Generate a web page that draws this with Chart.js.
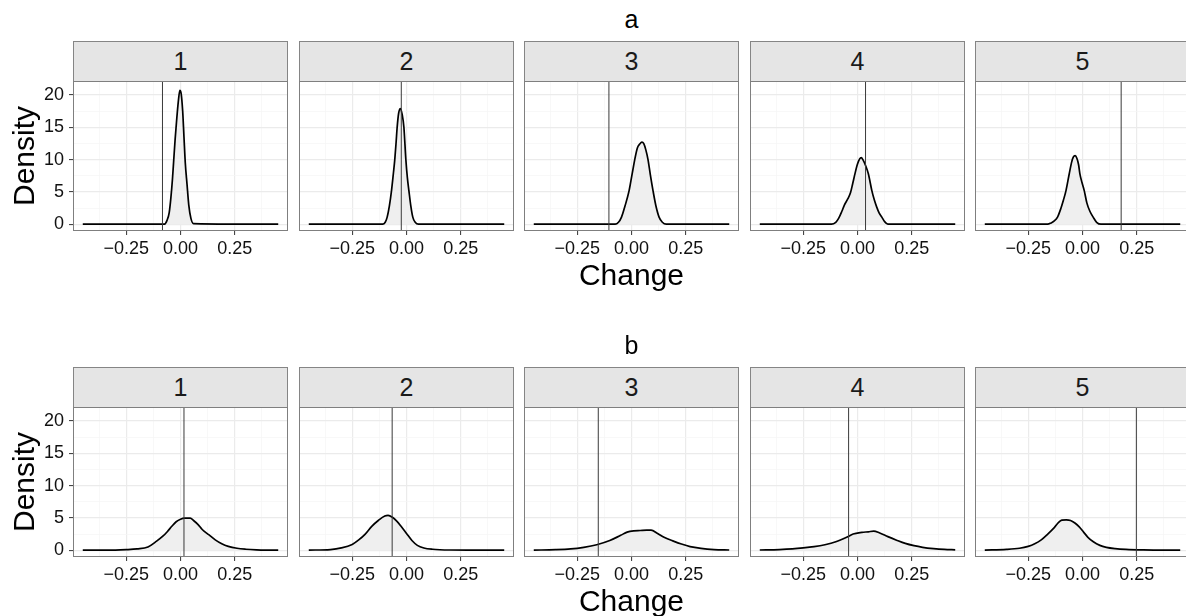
<!DOCTYPE html>
<html>
<head>
<meta charset="utf-8">
<script src="https://cdn.jsdelivr.net/npm/chart.js@4"></script>
<style>
  html { overflow: hidden; }
  body { margin: 0; background: #fff; width: 1186px; height: 616px; overflow: hidden; position: relative;
         font-family: "Liberation Sans", Arial, sans-serif; }
  #wrap { position: absolute; left: 0; top: 0; width: 1186px; height: 616px; overflow: hidden; }
  .strip { position: absolute; box-sizing: border-box; background: #e5e5e5; border: 1px solid #858585;
           display: flex; align-items: center; justify-content: center; font-size: 25px; color: #1a1a1a; line-height: 1; }
  .lbl { position: absolute; line-height: 1; color: #000; white-space: nowrap; }
  canvas { position: absolute; }
</style>
</head>
<body>
<div id="wrap"></div>
<script>
// facet names and row titles
var panelNames = ['1', '2', '3', '4', '5'];
var rowTitles = ['a', 'b'];

// axis ticks
var xMajor = [-0.25, 0, 0.25];
var xTickLabels = ['\u22120.25', '0.00', '0.25'];
var xMinor = [-0.375, -0.125, 0.125, 0.375];
var yMajor = [0, 5, 10, 15, 20];
var yMinor = [2.5, 7.5, 12.5, 17.5];

// vertical reference lines per panel
var vlineA = [-0.083, -0.024, -0.104, 0.037, 0.178];
var vlineB = [0.016, -0.066, -0.153, -0.041, 0.248];

// densities, row a
var densA1x = [-0.45, -0.075, -0.062, -0.052, -0.044, -0.037, -0.031, -0.025, -0.018, -0.01, -0.003, 0.003, 0.01, 0.016, 0.022, 0.03, 0.038, 0.048, 0.06, 0.45];
var densA1y = [0, 0, 0.6, 1.8, 4.2, 7.0, 10.0, 13.0, 16.0, 19.0, 20.7, 20.2, 17.5, 13.5, 9.5, 6.2, 3.0, 0.9, 0.1, 0];
var densA2x = [-0.45, -0.11, -0.098, -0.089, -0.079, -0.069, -0.06, -0.054, -0.048, -0.043, -0.036, -0.028, -0.02, -0.012, -0.003, 0.004, 0.011, 0.02, 0.029, 0.04, 0.055, 0.45];
var densA2y = [0, 0, 0.3, 1.1, 2.8, 5.2, 8.0, 10.0, 12.6, 15.0, 17.2, 17.9, 17.0, 15.0, 10.0, 7.2, 5.2, 2.8, 1.1, 0.3, 0, 0];
var densA3x = [-0.45, -0.075, -0.06, -0.046, -0.03, -0.011, 0.002, 0.015, 0.027, 0.038, 0.048, 0.056, 0.066, 0.076, 0.087, 0.099, 0.112, 0.127, 0.142, 0.16, 0.45];
var densA3y = [0, 0, 0.3, 1.1, 2.8, 5.2, 7.6, 10.0, 11.8, 12.4, 12.7, 12.5, 11.5, 10.0, 7.6, 5.2, 2.9, 1.1, 0.3, 0, 0];
var densA4x = [-0.45, -0.12, -0.1, -0.087, -0.072, -0.06, -0.045, -0.032, -0.022, -0.011, 0.0, 0.01, 0.017, 0.026, 0.038, 0.05, 0.066, 0.078, 0.089, 0.1, 0.112, 0.125, 0.14, 0.45];
var densA4y = [0, 0, 0.3, 0.9, 2.0, 3.0, 3.9, 4.9, 6.3, 7.9, 9.3, 10.1, 10.3, 9.9, 9.0, 7.8, 5.2, 3.7, 2.6, 1.7, 1.1, 0.4, 0, 0];
var densA5x = [-0.45, -0.16, -0.145, -0.13, -0.115, -0.1, -0.088, -0.076, -0.061, -0.05, -0.042, -0.034, -0.026, -0.018, -0.012, -0.002, 0.008, 0.02, 0.034, 0.049, 0.065, 0.085, 0.45];
var densA5y = [0, 0, 0.2, 0.5, 1.1, 2.4, 3.7, 5.2, 7.8, 9.6, 10.4, 10.6, 10.2, 9.2, 7.8, 6.4, 5.2, 3.3, 2.0, 1.1, 0.3, 0, 0];

// densities, row b
var densB1x = [-0.45, -0.3, -0.25, -0.2, -0.15, -0.11, -0.08, -0.06, -0.04, -0.02, 0.0, 0.02, 0.045, 0.06, 0.08, 0.1, 0.13, 0.16, 0.19, 0.22, 0.26, 0.3, 0.35, 0.4, 0.45];
var densB1y = [0, 0.02, 0.08, 0.2, 0.5, 1.4, 2.2, 2.9, 3.7, 4.4, 4.8, 4.95, 4.95, 4.6, 4.0, 3.2, 2.4, 1.6, 1.0, 0.6, 0.3, 0.15, 0.05, 0.01, 0];
var densB2x = [-0.45, -0.35, -0.3, -0.25, -0.22, -0.19, -0.16, -0.13, -0.1, -0.085, -0.065, -0.045, -0.025, 0.0, 0.025, 0.05, 0.08, 0.12, 0.2, 0.3, 0.45];
var densB2y = [0.02, 0.1, 0.35, 0.9, 1.6, 2.5, 3.7, 4.6, 5.3, 5.4, 5.1, 4.5, 3.7, 2.6, 1.5, 0.75, 0.35, 0.15, 0.03, 0.01, 0];
var densB3x = [-0.45, -0.35, -0.28, -0.22, -0.16, -0.1, -0.05, -0.02, 0.01, 0.04, 0.07, 0.09, 0.12, 0.15, 0.19, 0.23, 0.27, 0.32, 0.38, 0.45];
var densB3y = [0.02, 0.08, 0.2, 0.45, 0.85, 1.5, 2.3, 2.8, 3.0, 3.05, 3.1, 3.1, 2.6, 2.0, 1.45, 0.95, 0.55, 0.28, 0.1, 0.03];
var densB4x = [-0.45, -0.36, -0.3, -0.25, -0.2, -0.15, -0.1, -0.05, -0.02, 0.02, 0.05, 0.075, 0.1, 0.14, 0.18, 0.22, 0.26, 0.3, 0.35, 0.4, 0.45];
var densB4y = [0.03, 0.1, 0.2, 0.35, 0.55, 0.85, 1.3, 2.0, 2.5, 2.75, 2.85, 2.95, 2.7, 2.1, 1.55, 1.05, 0.7, 0.45, 0.25, 0.12, 0.06];
var densB5x = [-0.45, -0.35, -0.29, -0.25, -0.22, -0.19, -0.16, -0.13, -0.11, -0.095, -0.075, -0.055, -0.035, -0.015, 0.005, 0.025, 0.05, 0.08, 0.11, 0.15, 0.2, 0.28, 0.45];
var densB5y = [0.02, 0.12, 0.3, 0.6, 1.0, 1.6, 2.5, 3.5, 4.3, 4.65, 4.7, 4.6, 4.2, 3.6, 2.8, 2.0, 1.3, 0.75, 0.45, 0.25, 0.12, 0.04, 0];

var rowsX = [[densA1x, densA2x, densA3x, densA4x, densA5x], [densB1x, densB2x, densB3x, densB4x, densB5x]];
var rowsY = [[densA1y, densA2y, densA3y, densA4y, densA5y], [densB1y, densB2y, densB3y, densB4y, densB5y]];
var rowsV = [vlineA, vlineB];

// layout
var colLeft = [73, 299, 524, 750, 975];
var rowTop = [81, 407];
var panelW = 215, panelH = 150, stripH = 40, xAxisH = 30;
var xMin = -0.495, xMax = 0.495, yMin = -1.05, yMax = 22.15;

var wrap = document.getElementById('wrap');

Chart.defaults.font.family = '"Liberation Sans", Arial, sans-serif';
Chart.defaults.font.size = 18;
Chart.defaults.color = '#111';

var panelBorder = {
  id: 'panelBorder',
  afterDraw: function(chart) {
    var a = chart.chartArea, ctx = chart.ctx;
    ctx.save();
    ctx.strokeStyle = '#7f7f7f';
    ctx.lineWidth = 1;
    ctx.strokeRect(a.left + 0.5, a.top + 0.5, a.right - a.left - 1, a.bottom - a.top - 1);
    ctx.restore();
  }
};

function isMajor(list, v) {
  return list.some(function(m) { return Math.abs(m - v) < 1e-9; });
}

function addLabel(text, size, left, top, extra) {
  var d = document.createElement('div');
  d.className = 'lbl';
  d.textContent = text;
  d.style.fontSize = size + 'px';
  d.style.left = left + 'px';
  d.style.top = top + 'px';
  d.style.transform = extra;
  wrap.appendChild(d);
}

function makePanel(r, c) {
  var xs = rowsX[r][c], ys = rowsY[r][c], vx = rowsV[r][c];
  var axisW = c === 0 ? colLeft[0] : 0;

  var strip = document.createElement('div');
  strip.className = 'strip';
  strip.textContent = panelNames[c];
  strip.style.left = colLeft[c] + 'px';
  strip.style.top = (rowTop[r] - stripH) + 'px';
  strip.style.width = panelW + 'px';
  strip.style.height = (stripH + 1) + 'px';
  wrap.appendChild(strip);

  var canvas = document.createElement('canvas');
  canvas.width = axisW + panelW + 1;
  canvas.height = 1 + panelH + xAxisH;
  canvas.style.width = canvas.width + 'px';
  canvas.style.height = canvas.height + 'px';
  canvas.style.left = (colLeft[c] - axisW) + 'px';
  canvas.style.top = (rowTop[r] - 1) + 'px';
  wrap.appendChild(canvas);

  var pts = xs.map(function(x, i) { return { x: x, y: ys[i] }; });

  new Chart(canvas, {
    type: 'line',
    data: {
      datasets: [{
        data: [{ x: vx, y: yMin }, { x: vx, y: yMax }],
        borderColor: '#3a3a3a',
        borderWidth: 1,
        pointRadius: 0,
        fill: false,
        order: 0
      }, {
        data: pts,
        borderColor: '#000',
        borderWidth: 1.7,
        backgroundColor: '#efefef',
        fill: { value: 0 },
        pointRadius: 0,
        cubicInterpolationMode: 'monotone',
        order: 1
      }]
    },
    options: {
      responsive: false,
      animation: false,
      events: [],
      layout: { padding: { top: 1, right: 1, left: 0, bottom: 0 } },
      plugins: { legend: { display: false }, tooltip: { enabled: false } },
      scales: {
        x: {
          type: 'linear',
          min: xMin,
          max: xMax,
          afterBuildTicks: function(s) {
            s.ticks = xMinor.concat(xMajor).sort(function(p, q) { return p - q; })
              .map(function(v) { return { value: v }; });
          },
          afterFit: function(s) { s.height = xAxisH; s.paddingLeft = 0; s.paddingRight = 0; },
          border: { display: false },
          grid: {
            color: function(ctx) { return ctx.tick && isMajor(xMajor, ctx.tick.value) ? '#ebebeb' : '#f5f5f5'; },
            lineWidth: function(ctx) { return ctx.tick && isMajor(xMajor, ctx.tick.value) ? 1.2 : 0.7; },
            tickColor: function(ctx) { return ctx.tick && isMajor(xMajor, ctx.tick.value) ? '#333' : 'rgba(0,0,0,0)'; },
            tickWidth: 1,
            tickLength: 4
          },
          ticks: {
            autoSkip: false,
            maxRotation: 0,
            padding: 3,
            callback: function(v) {
              var i = xMajor.findIndex(function(m) { return Math.abs(m - v) < 1e-9; });
              return i >= 0 ? xTickLabels[i] : '';
            }
          }
        },
        y: {
          type: 'linear',
          min: yMin,
          max: yMax,
          afterBuildTicks: function(s) {
            s.ticks = yMinor.concat(yMajor).sort(function(p, q) { return p - q; })
              .map(function(v) { return { value: v }; });
          },
          afterFit: function(s) { s.width = axisW; s.paddingTop = 0; s.paddingBottom = 0; },
          border: { display: false },
          grid: {
            color: function(ctx) { return ctx.tick && isMajor(yMajor, ctx.tick.value) ? '#ebebeb' : '#f5f5f5'; },
            lineWidth: function(ctx) { return ctx.tick && isMajor(yMajor, ctx.tick.value) ? 1.2 : 0.7; },
            tickColor: function(ctx) { return c === 0 && ctx.tick && isMajor(yMajor, ctx.tick.value) ? '#333' : 'rgba(0,0,0,0)'; },
            tickWidth: 1,
            tickLength: c === 0 ? 4 : 0
          },
          ticks: {
            display: c === 0,
            autoSkip: false,
            padding: 5,
            callback: function(v) { return isMajor(yMajor, v) ? String(v) : ''; }
          }
        }
      }
    },
    plugins: [panelBorder]
  });
}

for (var r = 0; r < 2; r++) {
  for (var c = 0; c < 5; c++) makePanel(r, c);
  var midX = colLeft[2] + panelW / 2;
  addLabel(rowTitles[r], 25, midX, 7 + r * 326, 'translateX(-50%)');
  addLabel('Change', 30, midX, 260 + r * 326, 'translateX(-50%)');
  addLabel('Density', 30, 24, rowTop[r] + panelH / 2, 'translate(-50%, -50%) rotate(-90deg)');
}
</script>
</body>
</html>
